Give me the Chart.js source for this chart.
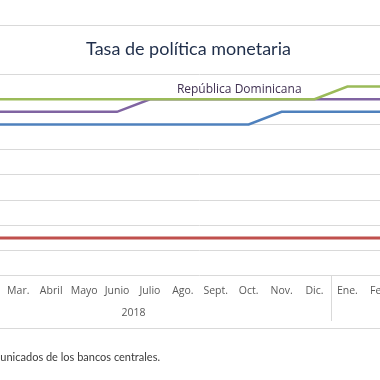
<!DOCTYPE html>
<html>
<head>
<meta charset="utf-8">
<script src="https://cdn.jsdelivr.net/npm/chart.js@4/dist/chart.umd.min.js"></script>
<style>
  html, body { margin: 0; padding: 0; background: #ffffff; }
  #wrap { position: relative; width: 380px; height: 380px; overflow: hidden; background: #ffffff; }
  #holder { position: absolute; left: -67px; top: 0; width: 560px; height: 380px; }
</style>
</head>
<body>
<div id="wrap"><div id="holder"><canvas id="c" width="560" height="380"></canvas></div></div>
<script>
// ---- data ----
const months = ['Ene.', 'Feb.', 'Mar.', 'Abril', 'Mayo', 'Junio', 'Julio', 'Ago.', 'Sept.', 'Oct.', 'Nov.', 'Dic.', 'Ene.', 'Feb.', 'Mar.', 'Abril'];
const years = ['2018', '2019'];
const yearSpans = [12, 4];
const honduras = [5.5, 5.5, 5.5, 5.5, 5.5, 5.5, 5.5, 5.5, 5.5, 5.5, 5.5, 5.5, 5.75, 5.75, 5.75, 5.75];
const repDominicana = [5.25, 5.25, 5.25, 5.25, 5.25, 5.25, 5.5, 5.5, 5.5, 5.5, 5.5, 5.5, 5.5, 5.5, 5.5, 5.5];
const costaRica = [5.0, 5.0, 5.0, 5.0, 5.0, 5.0, 5.0, 5.0, 5.0, 5.0, 5.25, 5.25, 5.25, 5.25, 4.75, 4.75];
const guatemala = [2.75, 2.75, 2.75, 2.75, 2.75, 2.75, 2.75, 2.75, 2.75, 2.75, 2.75, 2.75, 2.75, 2.75, 2.75, 2.75];
const titleText = 'Tasa de política monetaria';
const seriesLabel = 'República Dominicana';
const sourceText = 'Fuente: elaboración propia con base en comunicados de los bancos centrales.';

const OFFSET = 67; // canvas is shifted left by this many px

const decor = {
  id: 'decor',
  beforeDraw(chart) {
    const ctx = chart.ctx;
    const W = chart.width;
    ctx.save();
    ctx.strokeStyle = '#d9d9d9';
    ctx.lineWidth = 1;
    ctx.beginPath();
    ctx.moveTo(0, 25.5); ctx.lineTo(W, 25.5);
    ctx.moveTo(0, 328.5); ctx.lineTo(W, 328.5);
    ctx.stroke();
    // title
    ctx.fillStyle = '#1f2e4a';
    ctx.font = '18px Lato';
    ctx.textAlign = 'center';
    ctx.textBaseline = 'alphabetic';
    ctx.fillText(titleText, 188.5 + OFFSET, 55);
    // source
    ctx.fillStyle = '#3a3a3a';
    ctx.font = '11px Lato';
    ctx.textAlign = 'right';
    ctx.fillText(sourceText, 160 + OFFSET, 361);
    ctx.restore();
  },
  afterDraw(chart) {
    const ctx = chart.ctx;
    const x = chart.scales.x, y = chart.scales.y;
    ctx.save();
    ctx.fillStyle = '#595959';
    ctx.font = '10.5px "Open Sans"';
    ctx.textAlign = 'center';
    ctx.textBaseline = 'middle';
    let start = 0;
    const half = (x.getPixelForValue(1) - x.getPixelForValue(0)) / 2;
    for (let i = 0; i < years.length; i++) {
      const end = start + yearSpans[i] - 1;
      const cx = (x.getPixelForValue(start) + x.getPixelForValue(end)) / 2;
      ctx.fillText(years[i], cx, 313.5);
      if (i > 0) {
        const sx = Math.round(x.getPixelForValue(start) - half) + 0.5;
        ctx.strokeStyle = '#d9d9d9';
        ctx.lineWidth = 1;
        ctx.beginPath();
        ctx.moveTo(sx, 276); ctx.lineTo(sx, 321);
        ctx.stroke();
      }
      start = end + 1;
    }
    // series label
    const lx = (x.getPixelForValue(8) + x.getPixelForValue(9)) / 2 + 7;
    const ly = y.getPixelForValue(repDominicana[8]) - 9.5;
    ctx.fillStyle = '#403152';
    ctx.font = '12px "Open Sans"';
    ctx.textAlign = 'center';
    ctx.textBaseline = 'middle';
    ctx.fillText(seriesLabel, lx, ly);
    ctx.restore();
  }
};

new Chart(document.getElementById('c'), {
  type: 'line',
  data: {
    labels: months,
    datasets: [
      { label: 'Guatemala', data: guatemala, borderColor: '#c0504d', borderWidth: 3 },
      { label: 'Costa Rica', data: costaRica, borderColor: '#4f81bd', borderWidth: 2.5 },
      { label: 'Honduras', data: honduras, borderColor: '#9bbb59', borderWidth: 2.5 },
      { label: 'República Dominicana', data: repDominicana, borderColor: '#8064a2', borderWidth: 2.5 }
    ]
  },
  options: {
    responsive: false,
    animation: false,
    devicePixelRatio: 1,
    layout: { padding: { top: 74, right: 30.4, left: 0, bottom: 0 } },
    elements: { point: { radius: 0 }, line: { tension: 0, borderCapStyle: 'butt' } },
    plugins: { legend: { display: false }, title: { display: false }, tooltip: { enabled: false } },
    scales: {
      x: {
        offset: true,
        grid: { display: false, drawTicks: false },
        border: { display: false },
        ticks: { color: '#595959', font: { family: 'Open Sans', size: 10.5 }, padding: 9, maxRotation: 0, autoSkip: false },
        afterFit(scale) { scale.height = 104.3; }
      },
      y: {
        min: 2, max: 6,
        ticks: { display: false, stepSize: 0.5 },
        grid: { color: '#d9d9d9', lineWidth: 1, drawTicks: false },
        border: { display: false },
        afterFit(scale) { scale.width = 0; }
      }
    }
  },
  plugins: [decor]
});
</script>
</body>
</html>
